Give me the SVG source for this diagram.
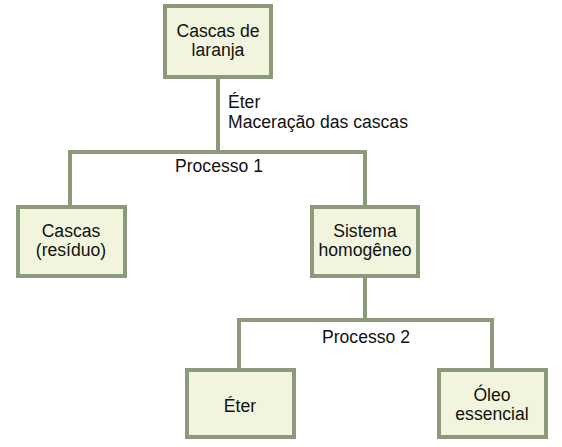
<svg xmlns="http://www.w3.org/2000/svg" width="562" height="447" viewBox="0 0 562 447">
<style>
.box{fill:#f1f5dd;stroke:#8c9a7b;stroke-width:4}
.ln{fill:none;stroke:#8c9a7b;stroke-width:4}
text{font-family:"Liberation Sans",Arial,sans-serif;font-size:17.6px;fill:#111}
.c{text-anchor:middle}
</style>
<rect width="562" height="447" fill="#fff"/>
<g id="connectors">
<path class="ln" d="M218 78V152M70 205V152H365V205M365 277V320M239 368V320H492V368"/>
</g>
<g id="labels">
<text x="228" y="108">Éter</text>
<text x="228" y="128">Maceração das cascas</text>
<text class="c" x="219" y="172">Processo 1</text>
<text class="c" x="366" y="343">Processo 2</text>
</g>
<g id="n-cascas-laranja">
<rect class="box" x="165" y="6" width="106" height="71"/>
<text class="c" x="218" y="37">Cascas de</text>
<text class="c" x="218" y="56">laranja</text>
</g>
<g id="n-cascas-residuo">
<rect class="box" x="18" y="207" width="107" height="69"/>
<text class="c" x="71" y="237">Cascas</text>
<text class="c" x="71" y="256">(resíduo)</text>
</g>
<g id="n-sistema">
<rect class="box" x="312" y="207" width="106" height="69"/>
<text class="c" x="365" y="237">Sistema</text>
<text class="c" x="365" y="256">homogêneo</text>
</g>
<g id="n-eter">
<rect class="box" x="187" y="370" width="107" height="67"/>
<text class="c" x="240" y="412">Éter</text>
</g>
<g id="n-oleo">
<rect class="box" x="439" y="370" width="107" height="67"/>
<text class="c" x="492" y="401">Óleo</text>
<text class="c" x="492" y="420">essencial</text>
</g>
</svg>
